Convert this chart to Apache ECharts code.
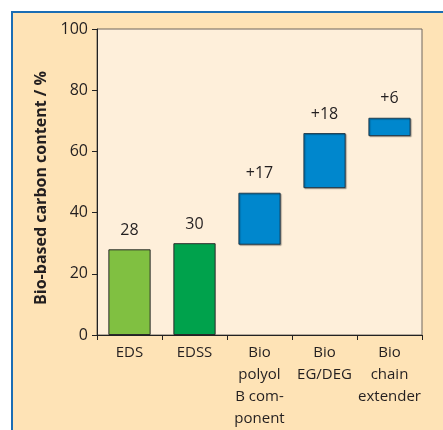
<!DOCTYPE html>
<html>
<head>
<meta charset="utf-8">
<script src="https://cdn.jsdelivr.net/npm/echarts@6/dist/echarts.min.js"></script>
<style>
  html, body { margin: 0; padding: 0; background: #ffffff; }
  #chart { width: 443px; height: 430px; }
</style>
</head>
<body>
<div id="chart"></div>
<script>
// Bio-based carbon content build-up, drawn as a waterfall
var categories = ['EDS', 'EDSS', 'Bio\npolyol\nB com-\nponent', 'Bio\nEG/DEG', 'Bio\nchain\nextender'];
// Where each floating step starts (0 for the two full bars)
var baseValues = [0, 0, 29.5, 48, 65];
// Height of each visible bar: total for EDS/EDSS, increment for the bio steps
var stepValues = [28, 30, 17, 18, 6];
// Which bars are increments (labelled with a leading "+")
var isIncrement = [false, false, true, true, true];
var barColors = ['#80c041', '#00a24c', '#0087cd', '#0087cd', '#0087cd'];
var yTicks = { min: 0, max: 100, interval: 20 };

var FONT = 'Open Sans';
var TEXT = '#231f20';

var chart = echarts.init(document.getElementById('chart'), null, { renderer: 'canvas' });

var stepData = stepValues.map(function (v, i) {
  var inc = isIncrement[i];
  return {
    value: v,
    itemStyle: {
      color: barColors[i],
      borderColor: inc ? 'rgba(25,45,60,0.85)' : '#2a2a2a',
      borderWidth: 1,
      shadowColor: inc ? 'rgba(0,0,0,0.35)' : 'rgba(0,0,0,0)',
      shadowOffsetX: inc ? 1 : 0,
      shadowOffsetY: inc ? 1 : 0,
      shadowBlur: inc ? 1 : 0
    }
  };
});

chart.setOption({
  backgroundColor: '#ffffff',
  animation: false,
  graphic: [
    // peach panel with a blue rule along its top and left edges
    {
      type: 'rect', z: -10, silent: true,
      shape: { x: 12, y: 12, width: 431, height: 418 },
      style: { fill: '#fee3b6' }
    },
    {
      type: 'line', z: -9, silent: true,
      shape: { x1: 11, y1: 12, x2: 443, y2: 12 },
      style: { stroke: '#1a6db4', lineWidth: 2 }
    },
    {
      type: 'line', z: -9, silent: true,
      shape: { x1: 12, y1: 11, x2: 12, y2: 430 },
      style: { stroke: '#1a6db4', lineWidth: 2 }
    }
  ],
  grid: {
    left: 97, right: 21, top: 29, bottom: 91,
    show: true,
    backgroundColor: '#feefda',
    borderColor: '#6e665e',
    borderWidth: 1
  },
  xAxis: {
    type: 'category',
    data: categories,
    axisLine: { lineStyle: { color: '#222', width: 1 } },
    axisTick: { show: true, length: 5, lineStyle: { color: '#222' } },
    axisLabel: {
      color: TEXT, fontFamily: FONT, fontSize: 15, lineHeight: 22,
      margin: 7, interval: 0
    }
  },
  yAxis: {
    type: 'value',
    min: yTicks.min, max: yTicks.max, interval: yTicks.interval,
    name: 'Bio-based carbon content / %',
    nameLocation: 'middle',
    nameGap: 48,
    nameTextStyle: { color: TEXT, fontFamily: FONT, fontSize: 16, fontWeight: 'bold', padding: [0, 12, 0, 0] },
    axisLine: { show: true, lineStyle: { color: '#222', width: 1 } },
    axisTick: { show: true, length: 5, lineStyle: { color: '#222' } },
    axisLabel: { color: TEXT, fontFamily: FONT, fontSize: 16, margin: 9 },
    splitLine: { show: false }
  },
  series: [
    {
      name: 'base',
      type: 'bar',
      stack: 'w',
      barWidth: '65%',
      data: baseValues,
      itemStyle: { color: 'rgba(0,0,0,0)' },
      emphasis: { disabled: true },
      silent: true
    },
    {
      name: 'step',
      type: 'bar',
      stack: 'w',
      barWidth: '65%',
      data: stepData,
      label: {
        show: true,
        position: 'top',
        distance: 11,
        color: TEXT,
        fontFamily: FONT,
        fontSize: 16,
        formatter: function (p) {
          return (isIncrement[p.dataIndex] ? '+' : '') + p.value;
        }
      }
    }
  ]
});
</script>
</body>
</html>
